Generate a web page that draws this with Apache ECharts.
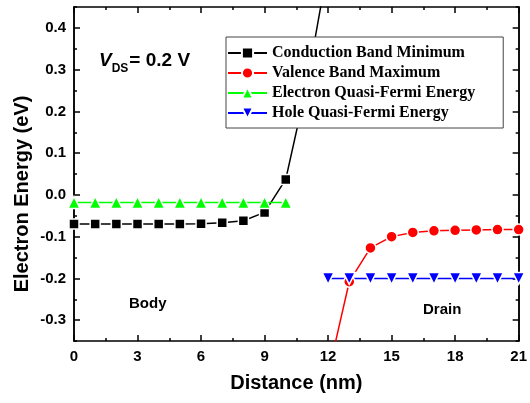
<!DOCTYPE html>
<html>
<head>
<meta charset="UTF-8">
<title>Electron Energy</title>
<script src="https://cdn.jsdelivr.net/npm/echarts@6/dist/echarts.min.js"></script>
<style>
	html, body { margin: 0; padding: 0; background: #fff; }
	#chart { width: 530px; height: 403px; }
</style>
</head>
<body>
<div id="chart"></div>
<script>
// data
var cbmX = [0, 1, 2, 3, 4, 5, 6, 7, 8, 9, 10, 11, 12];
var cbmY = [-0.070, -0.070, -0.070, -0.070, -0.070, -0.070, -0.069, -0.067, -0.062, -0.042, 0.037, 0.265, 0.55];
var vbmX = [12, 13, 14, 15, 16, 17, 18, 19, 20, 21];
var vbmY = [-0.43, -0.208, -0.127, -0.100, -0.090, -0.086, -0.085, -0.084, -0.083, -0.083];
var efnX = [0, 1, 2, 3, 4, 5, 6, 7, 8, 9, 10];
var efnY = [-0.018, -0.018, -0.018, -0.018, -0.018, -0.018, -0.018, -0.018, -0.018, -0.018, -0.018];
var efpX = [12, 13, 14, 15, 16, 17, 18, 19, 20, 21];
var efpY = [-0.200, -0.200, -0.200, -0.200, -0.200, -0.200, -0.200, -0.200, -0.200, -0.200];
var yMajor = [-0.3, -0.2, -0.1, 0.0, 0.1, 0.2, 0.3, 0.4];
var yMinor = [-0.35, -0.25, -0.15, -0.05, 0.05, 0.15, 0.25, 0.35, 0.45];
var seriesNames = ['Conduction Band Minimum', 'Valence Band Maximum', 'Electron Quasi-Fermi Energy', 'Hole Quasi-Fermi Energy'];

function pairs(xs, ys) {
	var out = [];
	for (var i = 0; i < xs.length; i++) out.push([xs[i], ys[i]]);
	return out;
}

var sans = 'Liberation Sans';
var lineAxis = { show: true, onZero: false, lineStyle: { color: '#000', width: 1.5 } };

function xAx(pos, labels) {
	return {
		type: 'value', position: pos, min: 0, max: 21, interval: 3,
		axisLine: lineAxis,
		axisTick: { show: true, inside: true, length: 6, lineStyle: { color: '#000', width: 1.5 } },
		minorTick: { show: true, splitNumber: 2, length: 3, lineStyle: { color: '#000', width: 1.5 } },
		axisLabel: { show: labels, color: '#000', fontFamily: sans, fontWeight: 'bold', fontSize: 15, margin: 8 },
		splitLine: { show: false },
		name: labels ? 'Distance (nm)' : '',
		nameLocation: 'middle', nameGap: 32,
		nameTextStyle: { color: '#000', fontFamily: sans, fontWeight: 'bold', fontSize: 20 }
	};
}

function yAx(pos, vals, len, labels) {
	return {
		type: 'value', position: pos, min: -0.35, max: 0.45,
		axisLine: lineAxis,
		axisTick: { show: true, inside: true, length: len, customValues: vals, lineStyle: { color: '#000', width: 1.5 } },
		axisLabel: {
			show: labels, customValues: yMajor, color: '#000', fontFamily: sans, fontWeight: 'bold', fontSize: 15, margin: 8,
			formatter: function (v) { return v.toFixed(1); }
		},
		splitLine: { show: false }
	};
}

var chart = echarts.init(document.getElementById('chart'));
var option = {
	backgroundColor: '#fff',
	animation: false,
	grid: { left: 74, right: 9, top: 7, bottom: 62 },
	xAxis: [xAx('bottom', true), xAx('top', false)],
	yAxis: [
		yAx('left', yMajor, 6, true),
		yAx('left', yMinor, 3, false),
		yAx('right', yMajor, 6, false),
		yAx('right', yMinor, 3, false)
	],
	legend: {
		orient: 'vertical', left: 226, top: 37,
		backgroundColor: '#fff', borderColor: '#444', borderWidth: 1,
		padding: [8, 28, 7, 1], itemGap: 4, itemWidth: 39, itemHeight: 14,
		data: seriesNames,
		textStyle: { color: '#000', fontFamily: 'Liberation Serif', fontWeight: 'bold', fontSize: 16, lineHeight: 16 }
	},
	series: [
		{
			name: seriesNames[0], type: 'line', data: pairs(cbmX, cbmY),
			symbol: 'rect', symbolSize: 10, color: '#000',
			lineStyle: { width: 1.5, color: '#000' },
			itemStyle: { color: '#000', borderColor: '#fff', borderWidth: 1.5 }
		},
		{
			name: seriesNames[1], type: 'line', data: pairs(vbmX, vbmY),
			symbol: 'circle', symbolSize: 11, color: '#ff0000',
			lineStyle: { width: 1.5, color: '#ff0000' },
			itemStyle: { color: '#ff0000', borderColor: '#fff', borderWidth: 1.5 }
		},
		{
			name: seriesNames[2], type: 'line', data: pairs(efnX, efnY),
			symbol: 'triangle', symbolSize: 12, color: '#00ff00',
			lineStyle: { width: 1.5, color: '#00ff00' },
			itemStyle: { color: '#00ff00', borderColor: '#fff', borderWidth: 1.5 }
		},
		{
			name: seriesNames[3], type: 'line', data: pairs(efpX, efpY),
			symbol: 'triangle', symbolRotate: 180, symbolSize: 12, color: '#0000ff',
			lineStyle: { width: 1.5, color: '#0000ff' },
			itemStyle: { color: '#0000ff', borderColor: '#fff', borderWidth: 1.5 }
		}
	],
	graphic: [
		{
			type: 'text', x: 22, y: 194, rotation: Math.PI / 2,
			style: {
				text: 'Electron Energy (eV)', fill: '#000', font: 'bold 20px "Liberation Sans"',
				align: 'center', verticalAlign: 'middle'
			}
		},
		{
			type: 'text', x: 99, y: 47,
			style: {
				text: '{i|V}{s|DS}{n|= 0.2 V}',
				rich: {
					i: { font: 'italic bold 19px "Liberation Sans"', fill: '#000' },
					s: { font: 'bold 12px "Liberation Sans"', fill: '#000', padding: [16, 1, 0, 0] },
					n: { font: 'bold 19px "Liberation Sans"', fill: '#000' }
				}
			}
		},
		{
			type: 'text', x: 129, y: 296,
			style: { text: 'Body', fill: '#000', font: 'bold 15px "Liberation Sans"' }
		},
		{
			type: 'text', x: 423, y: 302,
			style: { text: 'Drain', fill: '#000', font: 'bold 15px "Liberation Sans"' }
		}
	]
};
chart.setOption(option);
</script>
</body>
</html>
